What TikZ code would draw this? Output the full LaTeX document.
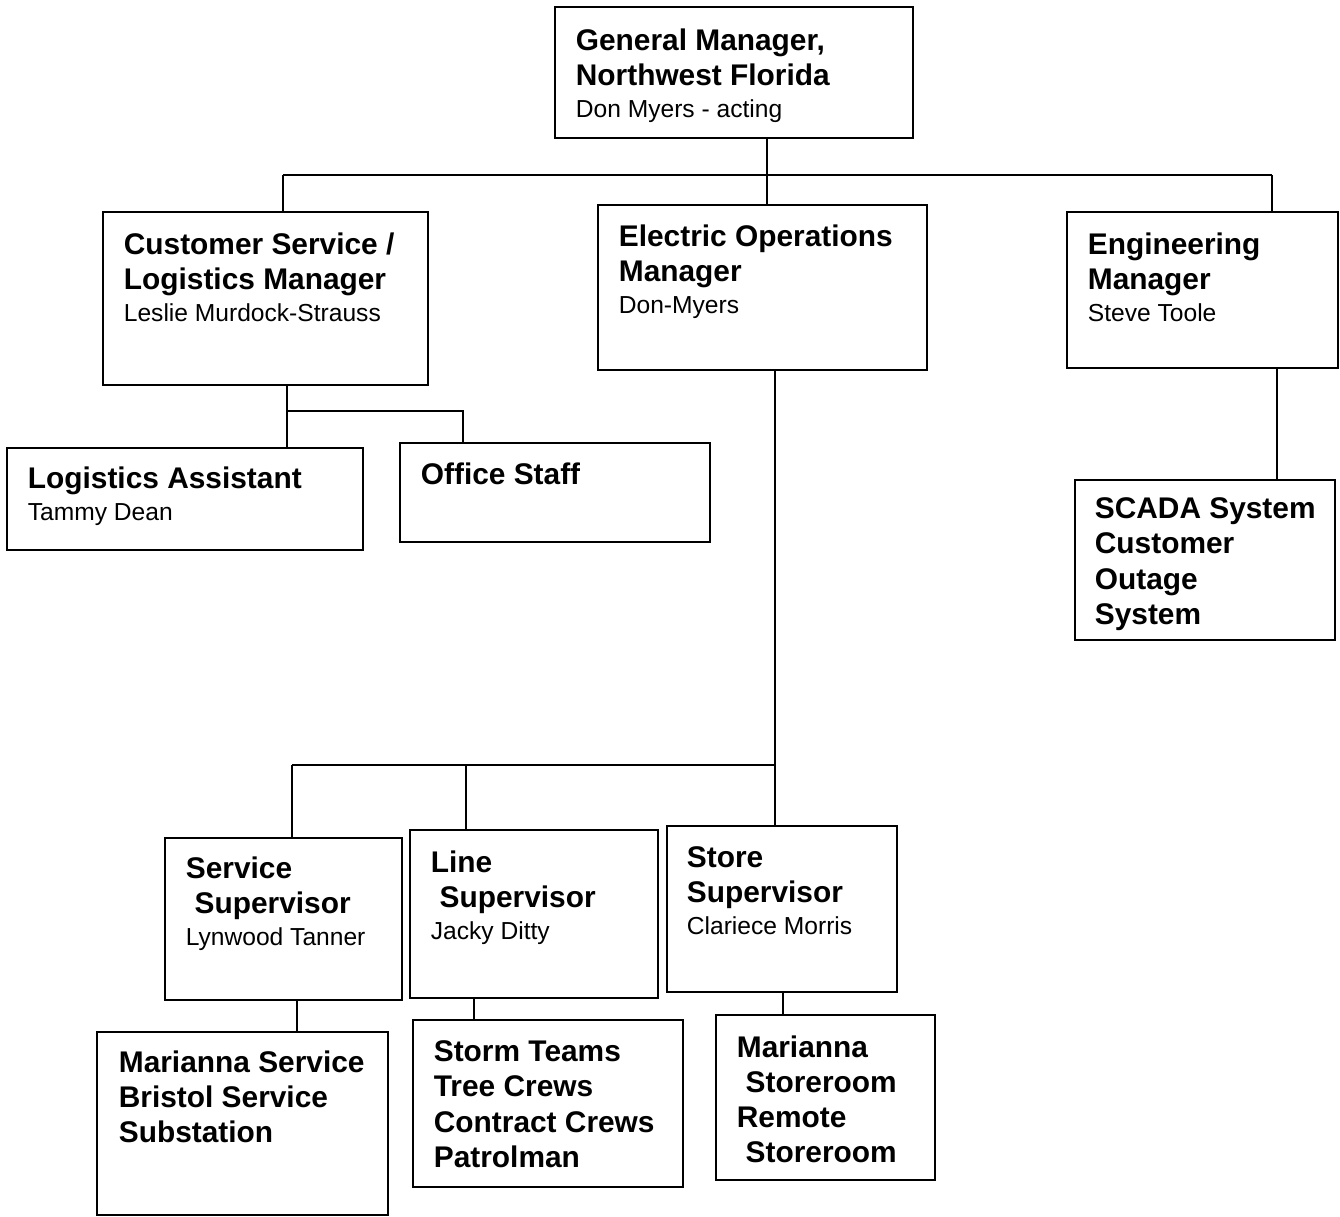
\documentclass[tikz,border=0pt]{standalone}
\usepackage{fontspec}
\setmainfont{Liberation Sans}

\newcommand{\nm}{\fontsize{14}{17}\mdseries\selectfont}

\begin{document}
\begin{tikzpicture}[x=0.02cm, y=-0.02cm, line width=1pt,
  box/.style={draw, line width=1.2pt, inner sep=0pt},
  txt/.style={anchor=north west, inner sep=0pt, align=left,
    font=\fontsize{17}{20}\selectfont\bfseries}]
\useasboundingbox (0,0) rectangle (1340,1217);
% box: name, corners, text corner, text
\newcommand{\orgbox}[8]{\node[box, minimum width={(#4-#2)*0.02cm}, minimum height={(#5-#3)*0.02cm}]
    (#1) at ({(#2+#4)/2},{(#3+#5)/2}) {};
  \node[txt] (#1-t) at (#6,#7) {#8};}

\orgbox{gm}{555}{7}{913}{138}{575}{28}{General Manager,\\ Northwest Florida\\[-2pt] {\nm Don Myers - acting}}
\orgbox{cs}{103}{212}{428}{385}{123}{232}{Customer Service /\\ Logistics Manager\\[-2pt] {\nm Leslie Murdock-Strauss}}
\orgbox{eo}{598}{205}{927}{370}{618}{224}{Electric Operations\\ Manager\\[-2pt] {\nm Don-Myers}}
\orgbox{eng}{1067}{212}{1338}{368}{1087}{232}{Engineering\\ Manager\\[-2pt] {\nm Steve Toole}}
\orgbox{la}{7}{448}{363}{550}{27}{466}{Logistics Assistant\\[-2pt] {\nm Tammy Dean}}
\orgbox{os}{400}{443}{710}{542}{420}{462}{Office Staff}
\orgbox{scada}{1075}{480}{1335}{640}{1094}{497}{SCADA System\\ Customer\\ Outage\\ System}
\orgbox{sv}{165}{838}{402}{1000}{185}{856}{Service\\ \hspace*{5pt}Supervisor\\[-2pt] {\nm Lynwood Tanner}}
\orgbox{ln}{410}{830}{658}{998}{430}{850}{Line\\ \hspace*{5pt}Supervisor\\[-2pt] {\nm Jacky Ditty}}
\orgbox{st}{667}{826}{897}{992}{686}{846}{Store\\ Supervisor\\[-2pt] {\nm Clariece Morris}}
\orgbox{ms}{97}{1032}{388}{1215}{118}{1050}{Marianna Service\\ Bristol Service\\ Substation}
\orgbox{tc}{413}{1020}{683}{1187}{433}{1040}{Storm Teams\\ Tree Crews\\ Contract Crews\\ Patrolman}
\orgbox{sr}{716}{1015}{935}{1180}{736}{1035}{Marianna\\ \hspace*{5pt}Storeroom\\ Remote\\ \hspace*{5pt}Storeroom}

% top level
\coordinate (jtop) at (767,175);
\coordinate (jcs) at (283,175);
\coordinate (jeng) at (1272,175);
\draw (gm.south -| jtop) -- (jtop);
\draw (jcs) -- (jeng);
\draw (jcs) -- (jcs |- cs.north);
\draw (jtop) -- (jtop |- eo.north);
\draw (jeng) -- (jeng |- eng.north);
% customer service
\coordinate (jla) at (287,411);
\coordinate (jos) at (463,411);
\draw (jla |- cs.south) -- (jla) -- (jos) -- (jos |- os.north);
\draw (jla) -- (jla |- la.north);
% engineering
\coordinate (jsc) at (1277,420);
\draw (jsc |- eng.south) -- (jsc |- scada.north);
% electric operations
\coordinate (jeo) at (775,765);
\coordinate (jsv) at (292,765);
\coordinate (jln) at (466,765);
\draw (jeo |- eo.south) -- (jeo);
\draw (jsv) -- (jeo);
\draw (jsv) -- (jsv |- sv.north);
\draw (jln) -- (jln |- ln.north);
\draw (jeo) -- (jeo |- st.north);
% supervisors
\coordinate (jms) at (297,1015);
\coordinate (jtc) at (474,1010);
\coordinate (jsr) at (783,1005);
\draw (jms |- sv.south) -- (jms |- ms.north);
\draw (jtc |- ln.south) -- (jtc |- tc.north);
\draw (jsr |- st.south) -- (jsr |- sr.north);
\end{tikzpicture}
\end{document}
